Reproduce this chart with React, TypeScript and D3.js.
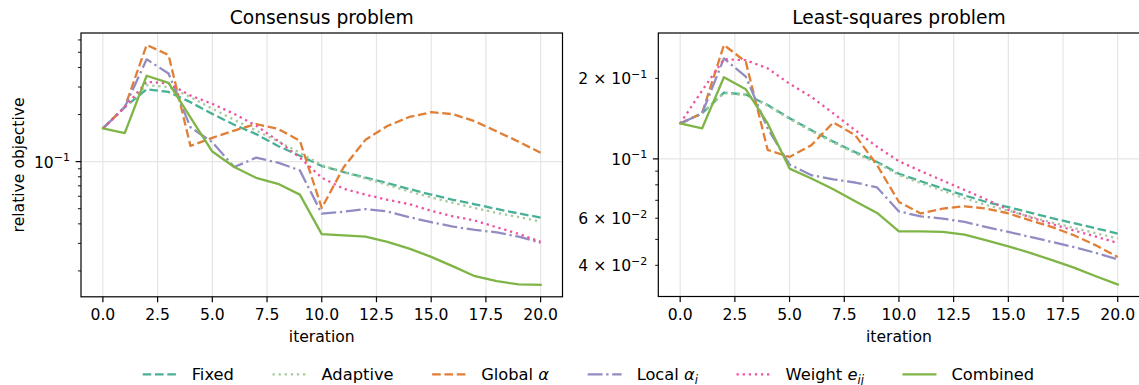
import React, { useRef, useEffect } from 'react';
import * as d3 from 'd3';

// iterations 0..20
const iterations = d3.range(0, 21);

// Consensus problem
const consensusFixed = [0.163, 0.223, 0.290, 0.279, 0.240, 0.202, 0.172, 0.150, 0.126, 0.109, 0.0937, 0.0858, 0.0790, 0.0728, 0.0668, 0.0615, 0.0570, 0.0533, 0.0498, 0.0466, 0.0439];
const consensusAdaptive = [0.163, 0.223, 0.308, 0.300, 0.259, 0.218, 0.185, 0.158, 0.135, 0.114, 0.0950, 0.0855, 0.0780, 0.0710, 0.0645, 0.0590, 0.0545, 0.0505, 0.0470, 0.0442, 0.0414];
const consensusGlobal = [0.163, 0.223, 0.557, 0.481, 0.126, 0.142, 0.158, 0.174, 0.162, 0.136, 0.0505, 0.092, 0.138, 0.169, 0.193, 0.207, 0.201, 0.181, 0.156, 0.134, 0.114];
const consensusLocal = [0.163, 0.223, 0.451, 0.366, 0.166, 0.133, 0.0923, 0.106, 0.0985, 0.0879, 0.0465, 0.0478, 0.0497, 0.0480, 0.0441, 0.0410, 0.0384, 0.0366, 0.0353, 0.0331, 0.0303];
const consensusWeight = [0.163, 0.223, 0.324, 0.316, 0.265, 0.234, 0.202, 0.170, 0.136, 0.106, 0.079, 0.067, 0.0615, 0.057, 0.0535, 0.0485, 0.0447, 0.042, 0.038, 0.0345, 0.0307];
const consensusCombined = [0.163, 0.152, 0.354, 0.319, 0.192, 0.116, 0.0923, 0.0788, 0.0721, 0.0615, 0.0344, 0.0338, 0.0331, 0.0307, 0.0278, 0.0246, 0.0214, 0.0185, 0.0172, 0.0164, 0.0163];

// Least-squares problem
const lsqFixed = [0.1357, 0.148, 0.177, 0.174, 0.159, 0.142, 0.128, 0.116, 0.106, 0.0974, 0.088, 0.0825, 0.0775, 0.0730, 0.0690, 0.0660, 0.0630, 0.0600, 0.0575, 0.0550, 0.0526];
const lsqAdaptive = [0.1357, 0.148, 0.176, 0.173, 0.158, 0.141, 0.127, 0.115, 0.105, 0.0965, 0.0870, 0.0812, 0.0760, 0.0712, 0.0672, 0.0640, 0.0608, 0.0578, 0.0552, 0.0527, 0.0504];
const lsqGlobal = [0.1357, 0.148, 0.2667, 0.2306, 0.108, 0.1017, 0.1126, 0.1368, 0.1227, 0.0947, 0.069, 0.0625, 0.0652, 0.0665, 0.0652, 0.0625, 0.0589, 0.0556, 0.0518, 0.0475, 0.0430];
const lsqLocal = [0.1357, 0.148, 0.2375, 0.203, 0.130, 0.0953, 0.0869, 0.0839, 0.0816, 0.0782, 0.0636, 0.0610, 0.0598, 0.0581, 0.0556, 0.0533, 0.0511, 0.0489, 0.0468, 0.0445, 0.0421];
const lsqWeight = [0.1357, 0.180, 0.236, 0.234, 0.218, 0.191, 0.1705, 0.148, 0.128, 0.111, 0.098, 0.090, 0.083, 0.0765, 0.0705, 0.0645, 0.0605, 0.0570, 0.0540, 0.0512, 0.0485];
const lsqCombined = [0.1357, 0.130, 0.202, 0.182, 0.1357, 0.0920, 0.0845, 0.0770, 0.0695, 0.0628, 0.0536, 0.0536, 0.0533, 0.0521, 0.0496, 0.0471, 0.0445, 0.0418, 0.0392, 0.0364, 0.0339];

const xTicks = [0, 2.5, 5, 7.5, 10, 12.5, 15, 17.5, 20];

// y tick labels: [value, mantissa, exponent]
const consensusYLabels: [number, string, string][] = [[0.1, '', '\u22121']];
const lsqYLabels: [number, string, string][] = [
  [0.2, '2 \u00d7 ', '\u22121'],
  [0.1, '', '\u22121'],
  [0.06, '6 \u00d7 ', '\u22122'],
  [0.04, '4 \u00d7 ', '\u22122'],
];

type Piece = { text: string; italic?: boolean; sub?: boolean };
const legendLabels: Piece[][] = [
  [{ text: 'Fixed' }],
  [{ text: 'Adaptive' }],
  [{ text: 'Global ' }, { text: '\u03b1', italic: true }],
  [{ text: 'Local ' }, { text: '\u03b1', italic: true }, { text: 'i', italic: true, sub: true }],
  [{ text: 'Weight ' }, { text: 'e', italic: true }, { text: 'ij', italic: true, sub: true }],
  [{ text: 'Combined' }],
];

const styles = [
  { color: '#48b195', dash: '8.6,3.7' },
  { color: '#a8c99c', dash: '2.3,3.8' },
  { color: '#e07f35', dash: '8.6,3.7' },
  { color: '#918dc2', dash: '14.9,3.7,2.3,3.7' },
  { color: '#ec54a1', dash: '2.3,3.8' },
  { color: '#7fb546', dash: null as string | null },
];

const FONT = '"DejaVu Sans", Verdana, sans-serif';
const FS = 15.6;
const LEGEND_FS = 16.3;

type PanelCfg = {
  id: string;
  left: number;
  right: number;
  top: number;
  bottom: number;
  title: string;
  series: number[][];
  yLabels: [number, string, string][];
  yTitle?: string;
};

function drawPanel(root: d3.Selection<SVGSVGElement, unknown, null, undefined>, cfg: PanelCfg) {
  const { left, right, top, bottom } = cfg;
  const x = d3.scaleLinear().domain([-1, 21]).range([left, right]);
  const all = cfg.series.flat();
  const lo = Math.log10(d3.min(all) as number);
  const hi = Math.log10(d3.max(all) as number);
  const pad = (hi - lo) * 0.05;
  const y = d3.scaleLog().domain([10 ** (lo - pad), 10 ** (hi + pad)]).range([bottom, top]);
  const [d0, d1] = y.domain();

  const g = root.append('g');

  g.append('clipPath').attr('id', cfg.id)
    .append('rect').attr('x', left).attr('y', top).attr('width', right - left).attr('height', bottom - top);

  // grid
  g.selectAll('.vgrid').data(xTicks).join('line')
    .attr('x1', d => x(d)).attr('x2', d => x(d)).attr('y1', top).attr('y2', bottom)
    .attr('stroke', '#e6e6e6').attr('stroke-width', 1.2);
  const majors = [0.001, 0.01, 0.1, 1].filter(v => v >= d0 && v <= d1);
  g.selectAll('.hgrid').data(majors).join('line')
    .attr('x1', left).attr('x2', right).attr('y1', d => y(d)).attr('y2', d => y(d))
    .attr('stroke', '#e6e6e6').attr('stroke-width', 1.2);

  // lines
  const line = d3.line<number>().x((_, i) => x(iterations[i])).y(d => y(d));
  const lg = g.append('g').attr('clip-path', `url(#${cfg.id})`);
  cfg.series.forEach((s, i) => {
    lg.append('path').attr('d', line(s) as string)
      .attr('fill', 'none')
      .attr('stroke', styles[i].color)
      .attr('stroke-width', 2.3)
      .attr('stroke-linejoin', 'round')
      .attr('stroke-dasharray', styles[i].dash)
      .attr('stroke-linecap', styles[i].dash ? 'butt' : 'square');
  });

  // spines
  g.append('rect').attr('x', left).attr('y', top).attr('width', right - left).attr('height', bottom - top)
    .attr('fill', 'none').attr('stroke', '#000').attr('stroke-width', 1.2);

  // x ticks
  g.selectAll('.xt').data(xTicks).join('line')
    .attr('x1', d => x(d)).attr('x2', d => x(d)).attr('y1', bottom).attr('y2', bottom + 5.4)
    .attr('stroke', '#000').attr('stroke-width', 1.2);
  g.selectAll('.xl').data(xTicks).join('text')
    .attr('x', d => x(d)).attr('y', bottom + 23.5)
    .attr('text-anchor', 'middle').attr('font-family', FONT).attr('font-size', FS).attr('fill', '#000')
    .text(d => d.toFixed(1));
  g.append('text').attr('x', (left + right) / 2).attr('y', 341.7)
    .attr('text-anchor', 'middle').attr('font-family', FONT).attr('font-size', FS).text('iteration');

  // y ticks (major + minor)
  const minors: number[] = [];
  for (const dec of [0.001, 0.01, 0.1]) {
    for (let k = 2; k <= 9; k++) {
      const v = dec * k;
      if (v >= d0 && v <= d1) minors.push(v);
    }
  }
  g.selectAll('.ymaj').data(majors).join('line')
    .attr('x1', left - 5.4).attr('x2', left).attr('y1', d => y(d)).attr('y2', d => y(d))
    .attr('stroke', '#000').attr('stroke-width', 1.2);
  g.selectAll('.ymin').data(minors).join('line')
    .attr('x1', left - 3.1).attr('x2', left).attr('y1', d => y(d)).attr('y2', d => y(d))
    .attr('stroke', '#000').attr('stroke-width', 0.9);

  const yl = g.selectAll('.yl').data(cfg.yLabels).join('text')
    .attr('x', left - 11).attr('y', d => y(d[0]) + 6)
    .attr('text-anchor', 'end').attr('font-family', FONT).attr('font-size', FS).attr('fill', '#000');
  yl.append('tspan').text(d => d[1] + '10');
  yl.append('tspan').attr('dy', -6.5).attr('font-size', 11).text(d => d[2]);

  if (cfg.yTitle) {
    g.append('text').attr('transform', `translate(24,${(top + bottom) / 2}) rotate(-90)`)
      .attr('text-anchor', 'middle').attr('font-family', FONT).attr('font-size', FS).text(cfg.yTitle);
  }

  g.append('text').attr('x', (left + right) / 2).attr('y', 24)
    .attr('text-anchor', 'middle').attr('font-family', FONT).attr('font-size', 18.7).text(cfg.title);
}

const App: React.FC = () => {
  const svgRef = useRef<SVGSVGElement | null>(null);

  useEffect(() => {
    const svg = d3.select(svgRef.current as SVGSVGElement);
    svg.selectAll('*').remove();

    drawPanel(svg, {
      id: 'clipA', left: 81, right: 562.5, top: 33, bottom: 296.8,
      title: 'Consensus problem',
      series: [consensusFixed, consensusAdaptive, consensusGlobal, consensusLocal, consensusWeight, consensusCombined],
      yLabels: consensusYLabels,
      yTitle: 'relative objective',
    });
    drawPanel(svg, {
      id: 'clipB', left: 658.3, right: 1139.6, top: 33, bottom: 296.5,
      title: 'Least-squares problem',
      series: [lsqFixed, lsqAdaptive, lsqGlobal, lsqLocal, lsqWeight, lsqCombined],
      yLabels: lsqYLabels,
    });

    // legend
    const lgY = 374.3;
    let cx = 142.7;
    legendLabels.forEach((pieces, i) => {
      svg.append('line').attr('x1', cx).attr('x2', cx + 34).attr('y1', lgY).attr('y2', lgY)
        .attr('stroke', styles[i].color).attr('stroke-width', 2.3)
        .attr('stroke-dasharray', styles[i].dash);
      const t = svg.append('text').attr('x', cx + 49).attr('y', lgY + 6)
        .attr('font-family', FONT).attr('font-size', LEGEND_FS).attr('fill', '#000');
      pieces.forEach(p => {
        const ts = t.append('tspan').text(p.text);
        if (p.italic) ts.attr('font-style', 'italic');
        if (p.sub) ts.attr('dy', 4).attr('font-size', 11.5);
      });
      const w = (t.node() as SVGTextElement).getComputedTextLength();
      cx = cx + 49 + w + 38.6;
    });
  }, []);

  return (
    <svg ref={svgRef} width={1139} height={385}
      style={{ position: 'absolute', left: 0, top: 0, background: '#fff' }} />
  );
};

export default App;
